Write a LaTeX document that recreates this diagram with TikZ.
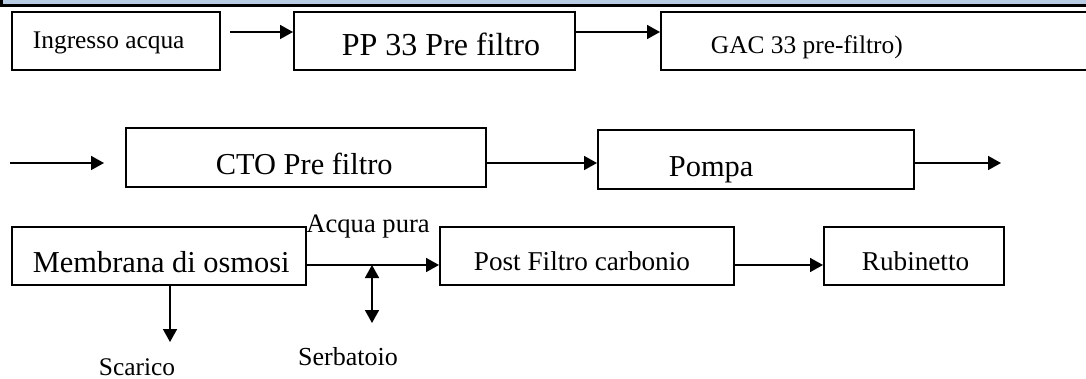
\documentclass[tikz,border=0pt]{standalone}
\usepackage{fontspec}
\setmainfont{Liberation Serif}
\usetikzlibrary{arrows.meta}

\definecolor{band}{RGB}{184,204,228}
\newcommand{\smallfnt}{\fontsize{12.7}{15}\selectfont}
\newcommand{\midfnt}{\fontsize{13.6}{16}\selectfont}
\newcommand{\bigfnt}{\fontsize{15.2}{18}\selectfont}

\begin{document}
\begin{tikzpicture}[x=.5pt,y=-.5pt,
	blk/.style={draw, line width=.9pt, inner sep=0pt, anchor=north west, align=flush left, text depth=0pt},
	arr/.style={-{Triangle[length=6.5pt,width=7pt]}, line width=.85pt}]
			\useasboundingbox (0,0) rectangle (1086,379);
			% header band
			\fill[band] (0,0) rectangle (1086,4);
			\fill[black] (0,4) rectangle (1086,7); \fill[black] (0,0) rectangle (3,7);
			
			\node[blk, text width=104pt, text height=7.5pt, minimum height=29pt, font=\smallfnt] (ingr) at (11,11) {\hspace*{10.5pt}Ingresso acqua};
			\node[blk, text width=140.5pt, text height=15pt, minimum height=29pt, font=\fontsize{16}{19}\selectfont] (pp) at (293,11) {\hspace*{24pt}PP 33 Pre filtro};
			\node[blk, text width=220pt, text height=13pt, minimum height=29pt, font=\smallfnt] (gac) at (660,11) {\hspace*{25pt}GAC 33 pre-filtro)};
			\draw[arr, shorten <=4.5pt] ([yshift=-10.5pt]ingr.north east) -- ([yshift=-10.5pt]pp.north west);
			\draw[arr] ([yshift=-10.5pt]pp.north east) -- ([yshift=-10.5pt]gac.north west);
			
			\coordinate (in2) at (10,163); \coordinate (out2) at (1001,163);
			\node[blk, text width=180pt, text height=17pt, minimum height=29.5pt, font=\bigfnt] (cto) at (125,127) {\hspace*{45pt}CTO Pre filtro};
			\node[blk, text width=158pt, text height=17pt, minimum height=29.5pt, font=\bigfnt] (pompa) at (597,129) {\hspace*{35.5pt}Pompa};
			\draw[arr, shorten >=10.5pt] (in2) -- (in2 -| cto.west);
			\draw[arr] (in2 -| cto.east) -- (in2 -| pompa.west);
			\draw[arr] (in2 -| pompa.east) -- (out2);
			
			\coordinate (tee) at (372,265); \coordinate (tank) at (372,323); \coordinate (drain) at (170,342);
			\node[blk, text width=147pt, text height=17pt, minimum height=29pt, font=\bigfnt] (memb) at (11,226) {\hspace*{10.5pt}Membrana di osmosi};
			\node[blk, text width=147pt, text height=15pt, minimum height=29pt, font=\midfnt] (post) at (439,226) {\hspace*{17pt}Post Filtro carbonio};
			\node[blk, text width=90pt, text height=15pt, minimum height=29pt, font=\midfnt] (rub) at (823,226) {\hspace*{19pt}Rubinetto};
			\draw[arr] (tee -| memb.east) -- (tee -| post.west);
			\draw[arr] (tee -| post.east) -- (tee -| rub.west);
			\draw[arr] (drain |- memb.south) -- (drain);
			\draw[{Triangle[length=6.5pt,width=7pt]}-{Triangle[length=6.5pt,width=7pt]}, line width=.85pt] (tee) -- (tank);
			
			\node[anchor=west, inner sep=0pt, font=\fontsize{13.3}{15}\selectfont] (pura) at (306,227) {Acqua pura};
			\node[inner sep=0pt, font=\smallfnt] (scarico) at (137,367) {Scarico};
			\node[inner sep=0pt, font=\fontsize{13}{15}\selectfont] (serb) at (348,357) {Serbatoio};
			\end{tikzpicture}
\end{document}
